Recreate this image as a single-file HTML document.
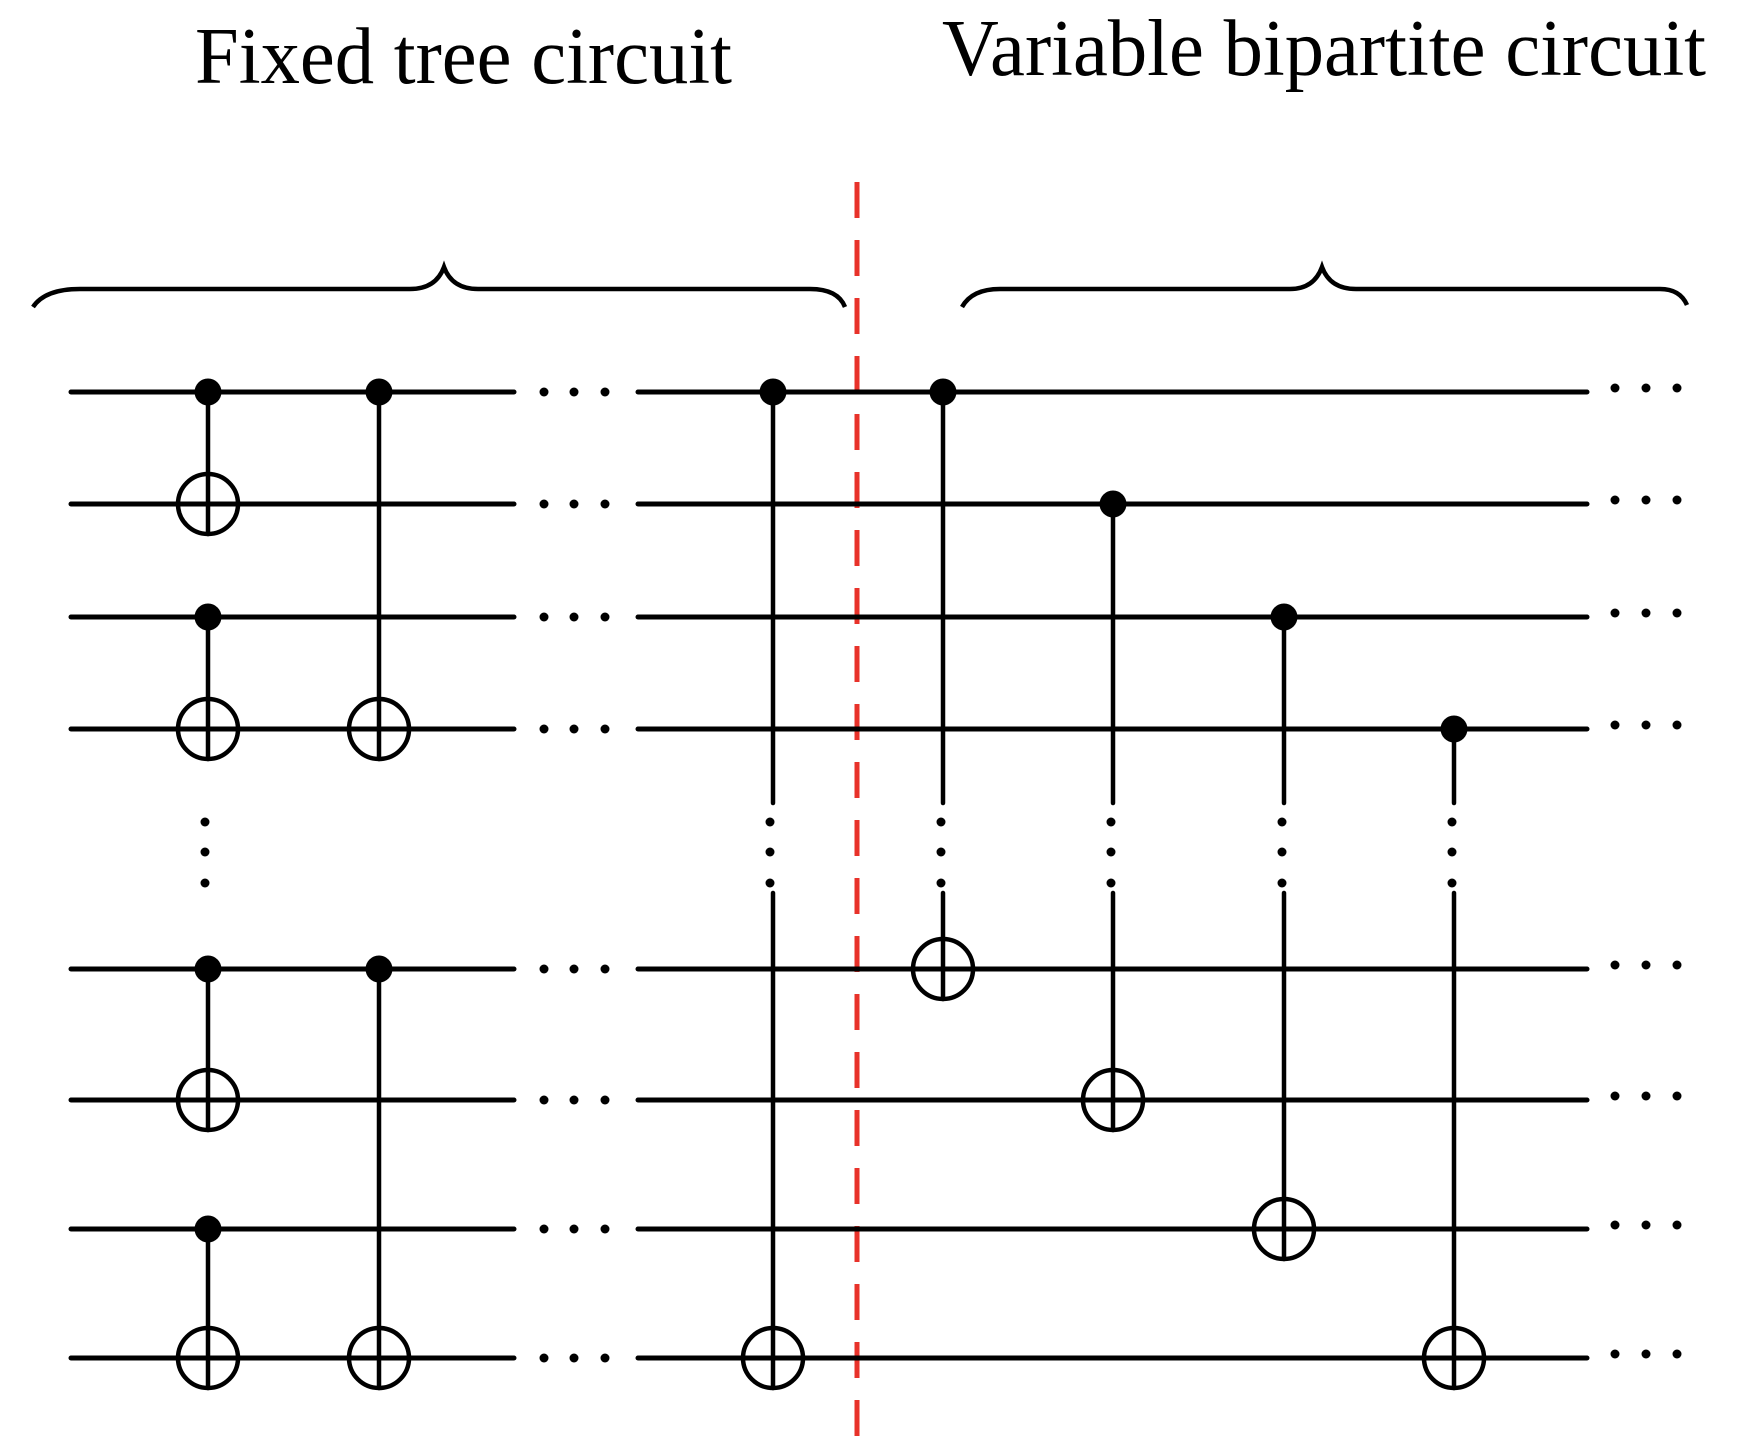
<!DOCTYPE html>
<html><head><meta charset="utf-8"><style>html,body{margin:0;padding:0;background:#fff;}svg{display:block}</style></head>
<body>
<svg width="1756" height="1448" viewBox="0 0 1756 1448" xmlns="http://www.w3.org/2000/svg">
<rect width="1756" height="1448" fill="#fff"/>
<g font-family="'Liberation Serif', serif" font-size="80" fill="#000">
<text x="195" y="83" textLength="537" lengthAdjust="spacingAndGlyphs">Fixed tree circuit</text>
<text x="942" y="75" textLength="764" lengthAdjust="spacingAndGlyphs">Variable bipartite circuit</text>
</g>
<g fill="none" stroke="#000" stroke-width="4.5" stroke-linecap="butt">
<path d="M33 307 Q45 289 80 289 L410 289 Q436 289 444 267 Q452 289 478 289 L810 289 Q838 289 845 307"/>
<path d="M962 307 Q972 289 1000 289 L1290 289 Q1314 289 1322 267 Q1330 289 1356 289 L1660 289 Q1680 289 1687 305"/>
</g>
<line x1="857" y1="182" x2="857" y2="1442" stroke="#e8322a" stroke-width="5" stroke-dasharray="36 22"/>
<g stroke="#000" stroke-width="5" stroke-linecap="round">
<line x1="71" y1="392" x2="514" y2="392"/><line x1="638" y1="392" x2="1587" y2="392"/>
<line x1="71" y1="504" x2="514" y2="504"/><line x1="638" y1="504" x2="1587" y2="504"/>
<line x1="71" y1="617" x2="514" y2="617"/><line x1="638" y1="617" x2="1587" y2="617"/>
<line x1="71" y1="729" x2="514" y2="729"/><line x1="638" y1="729" x2="1587" y2="729"/>
<line x1="71" y1="969" x2="514" y2="969"/><line x1="638" y1="969" x2="1587" y2="969"/>
<line x1="71" y1="1100" x2="514" y2="1100"/><line x1="638" y1="1100" x2="1587" y2="1100"/>
<line x1="71" y1="1229" x2="514" y2="1229"/><line x1="638" y1="1229" x2="1587" y2="1229"/>
<line x1="71" y1="1358" x2="514" y2="1358"/><line x1="638" y1="1358" x2="1587" y2="1358"/>
</g>
<g stroke="#000" stroke-width="4.5" stroke-linecap="round">
<line x1="208" y1="392" x2="208" y2="534"/>
<line x1="208" y1="617" x2="208" y2="759"/>
<line x1="208" y1="969" x2="208" y2="1130"/>
<line x1="208" y1="1229" x2="208" y2="1388"/>
<line x1="379" y1="392" x2="379" y2="759"/>
<line x1="379" y1="969" x2="379" y2="1388"/>
<line x1="773" y1="392" x2="773" y2="803"/><line x1="773" y1="893" x2="773" y2="1388"/>
<line x1="943" y1="392" x2="943" y2="803"/><line x1="943" y1="893" x2="943" y2="999"/>
<line x1="1113" y1="504" x2="1113" y2="803"/><line x1="1113" y1="893" x2="1113" y2="1130"/>
<line x1="1284" y1="617" x2="1284" y2="803"/><line x1="1284" y1="893" x2="1284" y2="1259"/>
<line x1="1454" y1="729" x2="1454" y2="803"/><line x1="1454" y1="893" x2="1454" y2="1388"/>
</g>
<g fill="none" stroke="#000" stroke-width="4.5">
<circle cx="208" cy="504" r="30"/><circle cx="208" cy="729" r="30"/><circle cx="379" cy="729" r="30"/>
<circle cx="208" cy="1100" r="30"/><circle cx="208" cy="1358" r="30"/><circle cx="379" cy="1358" r="30"/>
<circle cx="773" cy="1358" r="30"/><circle cx="943" cy="969" r="30"/><circle cx="1113" cy="1100" r="30"/>
<circle cx="1284" cy="1229" r="30"/><circle cx="1454" cy="1358" r="30"/>
</g>
<g fill="#000">
<circle cx="208" cy="392" r="13.5"/><circle cx="379" cy="392" r="13.5"/><circle cx="773" cy="392" r="13.5"/><circle cx="943" cy="392" r="13.5"/>
<circle cx="208" cy="617" r="13.5"/><circle cx="208" cy="969" r="13.5"/><circle cx="379" cy="969" r="13.5"/><circle cx="208" cy="1229" r="13.5"/>
<circle cx="1113" cy="504" r="13.5"/><circle cx="1284" cy="617" r="13.5"/><circle cx="1454" cy="729" r="13.5"/>
<circle cx="205" cy="822" r="4.5"/><circle cx="205" cy="852" r="4.5"/><circle cx="205" cy="883" r="4.5"/>
<circle cx="770" cy="822" r="4.5"/><circle cx="770" cy="852" r="4.5"/><circle cx="770" cy="883" r="4.5"/>
<circle cx="941" cy="822" r="4.5"/><circle cx="941" cy="852" r="4.5"/><circle cx="941" cy="883" r="4.5"/>
<circle cx="1111" cy="822" r="4.5"/><circle cx="1111" cy="852" r="4.5"/><circle cx="1111" cy="883" r="4.5"/>
<circle cx="1282" cy="822" r="4.5"/><circle cx="1282" cy="852" r="4.5"/><circle cx="1282" cy="883" r="4.5"/>
<circle cx="1452" cy="822" r="4.5"/><circle cx="1452" cy="852" r="4.5"/><circle cx="1452" cy="883" r="4.5"/>
<g>
<circle cx="544" cy="392" r="4.5"/><circle cx="574" cy="392" r="4.5"/><circle cx="605" cy="392" r="4.5"/>
<circle cx="544" cy="504" r="4.5"/><circle cx="574" cy="504" r="4.5"/><circle cx="605" cy="504" r="4.5"/>
<circle cx="544" cy="617" r="4.5"/><circle cx="574" cy="617" r="4.5"/><circle cx="605" cy="617" r="4.5"/>
<circle cx="544" cy="729" r="4.5"/><circle cx="574" cy="729" r="4.5"/><circle cx="605" cy="729" r="4.5"/>
<circle cx="544" cy="969" r="4.5"/><circle cx="574" cy="969" r="4.5"/><circle cx="605" cy="969" r="4.5"/>
<circle cx="544" cy="1100" r="4.5"/><circle cx="574" cy="1100" r="4.5"/><circle cx="605" cy="1100" r="4.5"/>
<circle cx="544" cy="1229" r="4.5"/><circle cx="574" cy="1229" r="4.5"/><circle cx="605" cy="1229" r="4.5"/>
<circle cx="544" cy="1358" r="4.5"/><circle cx="574" cy="1358" r="4.5"/><circle cx="605" cy="1358" r="4.5"/>
</g>
<g transform="translate(1071,-4)">
<circle cx="544" cy="392" r="4.5"/><circle cx="575" cy="392" r="4.5"/><circle cx="606" cy="392" r="4.5"/>
<circle cx="544" cy="504" r="4.5"/><circle cx="575" cy="504" r="4.5"/><circle cx="606" cy="504" r="4.5"/>
<circle cx="544" cy="617" r="4.5"/><circle cx="575" cy="617" r="4.5"/><circle cx="606" cy="617" r="4.5"/>
<circle cx="544" cy="729" r="4.5"/><circle cx="575" cy="729" r="4.5"/><circle cx="606" cy="729" r="4.5"/>
<circle cx="544" cy="969" r="4.5"/><circle cx="575" cy="969" r="4.5"/><circle cx="606" cy="969" r="4.5"/>
<circle cx="544" cy="1100" r="4.5"/><circle cx="575" cy="1100" r="4.5"/><circle cx="606" cy="1100" r="4.5"/>
<circle cx="544" cy="1229" r="4.5"/><circle cx="575" cy="1229" r="4.5"/><circle cx="606" cy="1229" r="4.5"/>
<circle cx="544" cy="1358" r="4.5"/><circle cx="575" cy="1358" r="4.5"/><circle cx="606" cy="1358" r="4.5"/>
</g>
</g>
</svg>
</body></html>
